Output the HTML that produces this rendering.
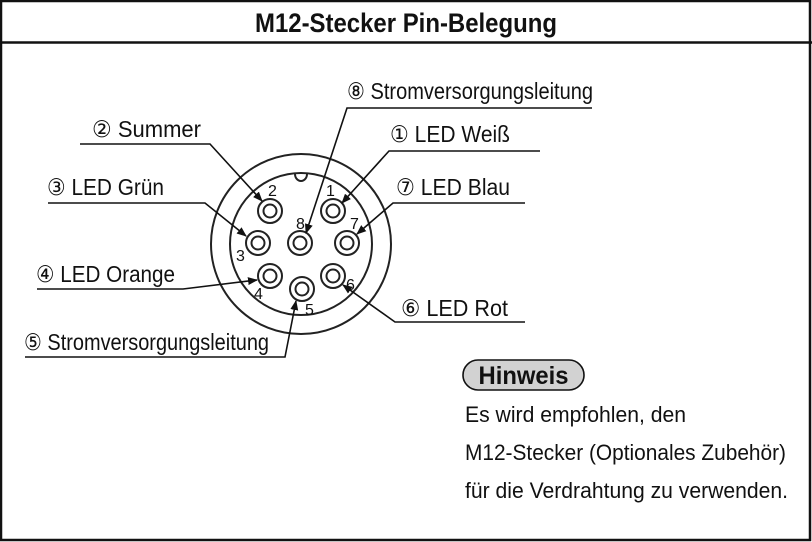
<!DOCTYPE html>
<html><head><meta charset="utf-8"><style>
html,body{margin:0;padding:0;background:#fff}
svg{display:block}
text{font-family:"Liberation Sans Narrow","Liberation Sans","DejaVu Sans",sans-serif;fill:#111}
</style></head><body>
<svg width="812" height="542" viewBox="0 0 812 542" xmlns="http://www.w3.org/2000/svg">
<defs><marker id="a" markerWidth="10" markerHeight="8" refX="9" refY="4" orient="auto" markerUnits="userSpaceOnUse"><path d="M0,0 L10,4 L0,8 Z" fill="#111"/></marker></defs>
<rect x="1" y="1" width="809" height="539" fill="none" stroke="#111" stroke-width="2.5"/>
<line x1="0" y1="42.5" x2="812" y2="42.5" stroke="#111" stroke-width="2.5"/>
<text x="406" y="32" text-anchor="middle" font-size="27" font-weight="bold" textLength="302" lengthAdjust="spacingAndGlyphs">M12-Stecker Pin-Belegung</text>

<g fill="none" stroke="#222" stroke-width="2">
<circle cx="301" cy="244" r="90"/>
<circle cx="301" cy="244" r="71"/>
<path d="M295,174 A6,7 0 0 0 307,174"/>
<g>
<circle cx="270" cy="211" r="12"/><circle cx="270" cy="211" r="6.5"/>
<circle cx="333" cy="211" r="12"/><circle cx="333" cy="211" r="6.5"/>
<circle cx="258" cy="243" r="12"/><circle cx="258" cy="243" r="6.5"/>
<circle cx="300" cy="243" r="12"/><circle cx="300" cy="243" r="6.5"/>
<circle cx="347" cy="243" r="12"/><circle cx="347" cy="243" r="6.5"/>
<circle cx="270" cy="276" r="12"/><circle cx="270" cy="276" r="6.5"/>
<circle cx="333" cy="276" r="12"/><circle cx="333" cy="276" r="6.5"/>
<circle cx="302" cy="289" r="12"/><circle cx="302" cy="289" r="6.5"/>
</g>
</g>
<g font-size="16">
<text x="268" y="196">2</text><text x="326" y="196">1</text>
<text x="296" y="229">8</text><text x="350" y="229">7</text>
<text x="236" y="261">3</text><text x="254" y="299">4</text>
<text x="305" y="315">5</text><text x="346" y="290">6</text>
</g>

<g fill="none" stroke="#111" stroke-width="1.6" marker-end="url(#a)">
<polyline points="80,144 210,144 262,201"/>
<polyline points="592,108 347,108 306,233"/>
<polyline points="540,151 389,151 342,203"/>
<polyline points="48,203 205,203 246,236"/>
<polyline points="525,203 393,203 357,234"/>
<polyline points="37,289 183,289 257,280"/>
<polyline points="525,322 395,322 343,285"/>
<polyline points="25,357 285,357 296,301"/>
</g>

<g font-size="23">
<text x="92" y="137" textLength="109" lengthAdjust="spacingAndGlyphs">② Summer</text>
<text x="347" y="99" textLength="246" lengthAdjust="spacingAndGlyphs">⑧ Stromversorgungsleitung</text>
<text x="390" y="142" textLength="120" lengthAdjust="spacingAndGlyphs">① LED Weiß</text>
<text x="47" y="195" textLength="117" lengthAdjust="spacingAndGlyphs">③ LED Grün</text>
<text x="396" y="195" textLength="114" lengthAdjust="spacingAndGlyphs">⑦ LED Blau</text>
<text x="36" y="282" textLength="139" lengthAdjust="spacingAndGlyphs">④ LED Orange</text>
<text x="401" y="316" textLength="107" lengthAdjust="spacingAndGlyphs">⑥ LED Rot</text>
<text x="24" y="350" textLength="245" lengthAdjust="spacingAndGlyphs">⑤ Stromversorgungsleitung</text>
</g>

<rect x="463" y="360" width="121" height="30" rx="15" fill="#d2d2d2" stroke="#111" stroke-width="1.6"/>
<text x="523.5" y="384" text-anchor="middle" font-size="25" font-weight="bold" textLength="90" lengthAdjust="spacingAndGlyphs">Hinweis</text>
<g font-size="22">
<text x="465" y="422" textLength="221" lengthAdjust="spacingAndGlyphs">Es wird empfohlen, den</text>
<text x="465" y="460" textLength="321" lengthAdjust="spacingAndGlyphs">M12-Stecker (Optionales Zubehör)</text>
<text x="465" y="498" textLength="323" lengthAdjust="spacingAndGlyphs">für die Verdrahtung zu verwenden.</text>
</g>
</svg>
</body></html>
